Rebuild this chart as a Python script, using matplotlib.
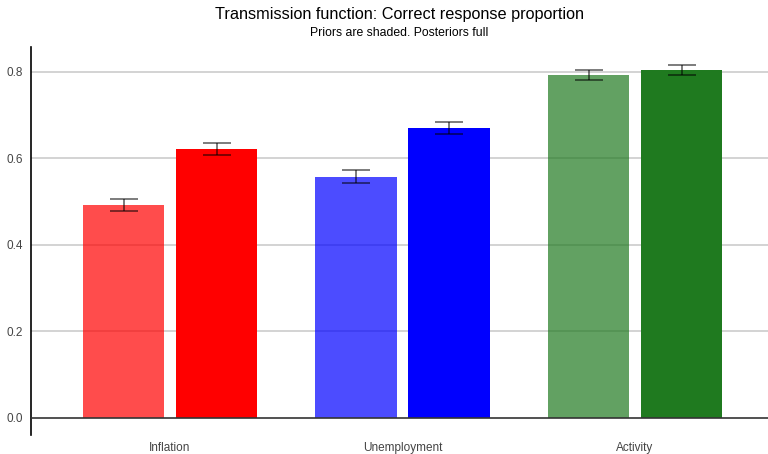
import matplotlib
matplotlib.use("Agg")
import matplotlib.pyplot as plt
import numpy as np

plt.rcParams['font.family'] = ['Liberation Sans', 'DejaVu Sans']

categories = ["Inflation", "Unemployment", "Activity"]
prior_vals = [0.492, 0.557, 0.793]
prior_err = [0.015, 0.015, 0.012]
post_vals = [0.621, 0.670, 0.804]
post_err = [0.014, 0.014, 0.012]
colors = ["#ff0000", "#0000ff", "#1f7a1f"]
yticks = [0.0, 0.2, 0.4, 0.6, 0.8]

fig = plt.figure(figsize=(7.68, 4.54), dpi=100)
ax = fig.add_axes([31 / 768, 19 / 454, 737 / 768, 388 / 454])

x = np.arange(len(categories))
width = 0.35
offset = 0.2

ax.bar(x - offset, prior_vals, width, color=colors, alpha=0.7, zorder=2)
ax.bar(x + offset, post_vals, width, color=colors, zorder=2)
ax.errorbar(x - offset, prior_vals, yerr=prior_err, fmt="none", ecolor="black",
            alpha=0.6, elinewidth=1.2, capsize=10, capthick=1.2, zorder=3)
ax.errorbar(x + offset, post_vals, yerr=post_err, fmt="none", ecolor="black",
            alpha=0.6, elinewidth=1.2, capsize=10, capthick=1.2, zorder=3)

ax.set_xlim(-0.598, 2.572)
ax.set_ylim(-0.0393, 0.857)
ax.set_yticks(yticks)
ax.set_yticklabels([f"{v:.1f}" for v in yticks])
ax.set_xticks(x)
ax.set_xticklabels(categories)
ax.tick_params(axis="both", length=0, labelsize=8.5, labelcolor="#444444")
ax.tick_params(axis="x", pad=5)
ax.tick_params(axis="y", pad=6)

for v in yticks[1:]:
    ax.axhline(v, color="#cccccc", lw=1.2, zorder=1)
ax.axhline(0, color="#333333", lw=1.2, zorder=4)

for side in ["top", "right", "bottom"]:
    ax.spines[side].set_visible(False)
ax.spines["left"].set_color("black")
ax.spines["left"].set_linewidth(1.2)

cx = (31 + 768) / 2 / 768
fig.text(cx, 1 - 15 / 454, "Transmission function: Correct response proportion",
         ha="center", va="center", fontsize=11.7)
fig.text(cx, 1 - 33 / 454, "Priors are shaded. Posteriors full",
         ha="center", va="center", fontsize=8.8)

fig.savefig("out.png", dpi=100)
